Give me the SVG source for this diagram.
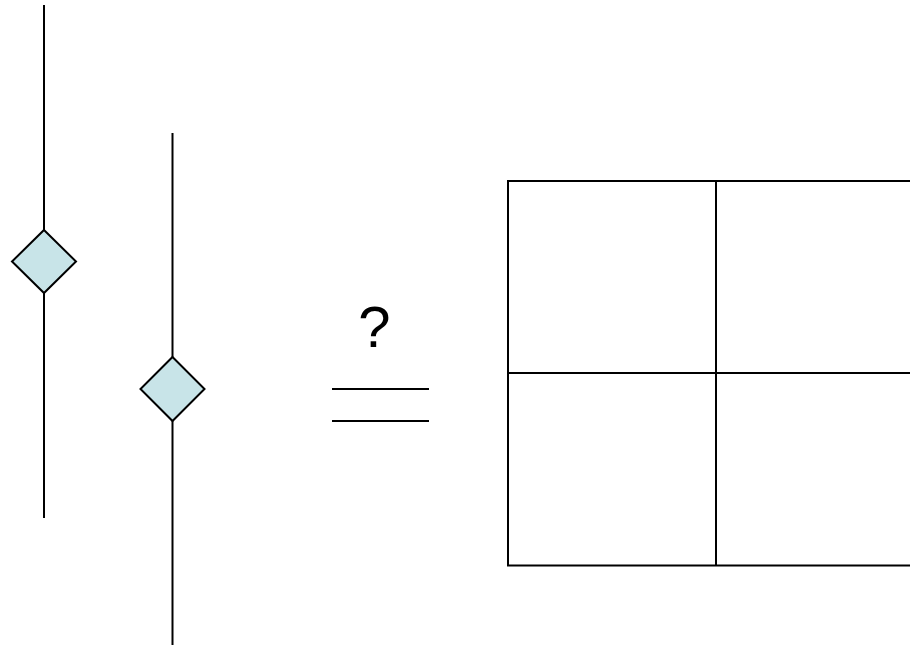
<svg xmlns="http://www.w3.org/2000/svg" width="910" height="645" viewBox="0 0 910 645">
<style>
.ln{stroke:#000;stroke-width:2;fill:none}
.dia{fill:#c8e4e8;stroke:#000;stroke-width:2}
.q{font-family:"Liberation Sans",Arial,sans-serif;font-size:58px;fill:#000}
</style>
<rect width="910" height="645" fill="#fff"/>
<g id="connectors">
<line class="ln" x1="44" y1="5" x2="44" y2="518"/>
<line class="ln" x1="172.5" y1="133" x2="172.5" y2="645"/>
</g>
<g id="diamond1"><polygon class="dia" points="44,230 76,261.5 44,293 12,261.5"/></g>
<g id="diamond2"><polygon class="dia" points="172.5,357 204.5,389 172.5,421 140.5,389"/></g>
<g id="question"><text class="q" x="374.5" y="347" text-anchor="middle">?</text></g>
<g id="equals">
<line class="ln" x1="332" y1="389" x2="429" y2="389"/>
<line class="ln" x1="332" y1="421" x2="429" y2="421"/>
</g>
<g id="grid">
<rect class="ln" x="508" y="181" width="416" height="384.5"/>
<line class="ln" x1="716" y1="181" x2="716" y2="565.5"/>
<line class="ln" x1="508" y1="373" x2="924" y2="373"/>
</g>
</svg>
